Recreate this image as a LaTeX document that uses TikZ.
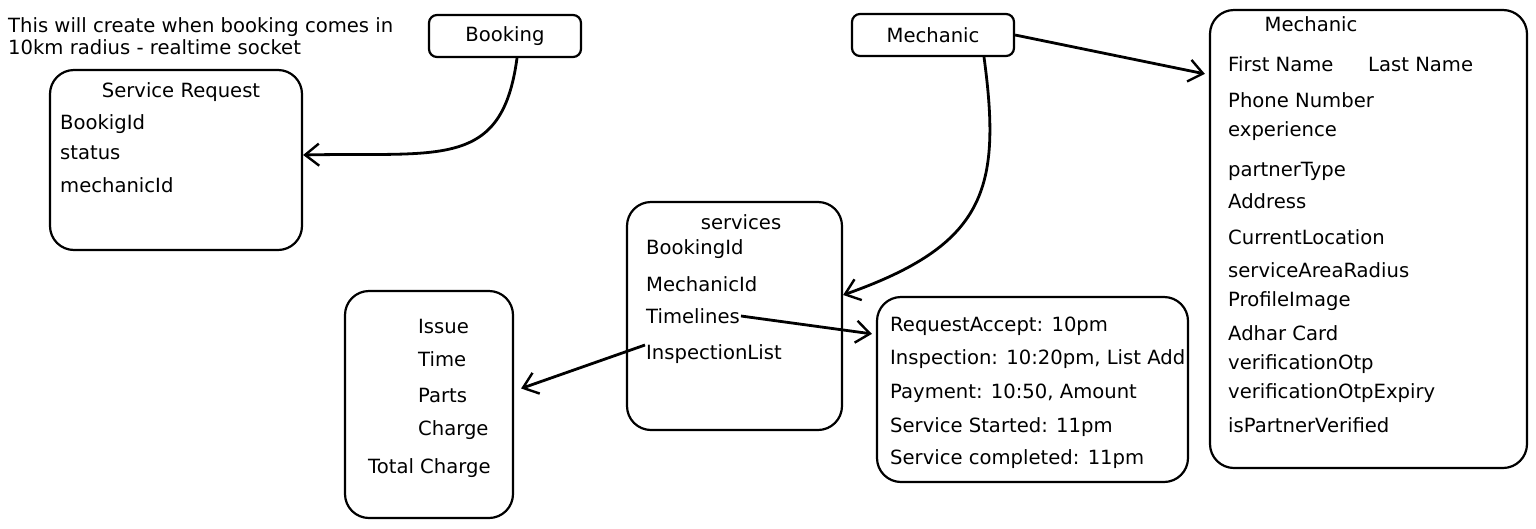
\documentclass[tikz,border=0pt]{standalone}
\usepackage{fontspec}
\setmainfont{DejaVu Sans}
\usetikzlibrary{arrows.meta}
\tikzset{>={Straight Barb[length=14pt,width=22pt,line width=2.4pt]}}
\begin{document}
\begin{tikzpicture}[x=1pt,y=-1pt,
					font=\fontsize{19.6}{22}\selectfont,
					entity/.style={draw,rectangle,rounded corners=24pt,line width=2.2pt},
					tag/.style={draw,rectangle,rounded corners=8pt,line width=2.2pt,minimum height=42pt},
					field/.style={anchor=west,inner sep=1pt},
					link/.style={->,line width=2.8pt}
				]
				\useasboundingbox (0,0) rectangle (1536,528);
				\node (note) at (8,36) [anchor=west,align=left,inner sep=0pt]{This will create when booking comes in\\10km radius - realtime socket};
				\node (booking) at (505,36) [tag,minimum width=152pt]{Booking};
				\node (mechsm) at (933,35) [tag,minimum width=162pt]{Mechanic};
				% service request
				\node (srq) at (176,160) [entity,minimum width=252pt,minimum height=180pt]{};
				\node (srqtitle) at (181,92) {Service Request};
				\node (srqbid) at (59,124) [field]{BookigId};
				\node (srqstatus) at (59,153) [field]{status};
				\node (srqmid) at (59,185) [field]{mechanicId};
				% services
				\node (services) at (734.5,316) [entity,minimum width=215pt,minimum height=228pt]{};
				\node (srvtitle) at (741,222) {services};
				\node (srvbid) at (645,249) [field]{BookingId};
				\node (srvmid) at (645,284) [field]{MechanicId};
				\node (srvtime) at (645,316) [field]{Timelines};
				\node (srvinsp) at (645,354) [field]{InspectionList};
				% timelines
				\node (tl) at (1032.5,389.5) [entity,minimum width=311pt,minimum height=185pt]{};
				\node (tlaccept) at (889,326) [field]{RequestAccept: 10pm};
				\node (tlinsp) at (889,359) [field]{Inspection: 10:20pm, List Add};
				\node (tlpay) at (889,393) [field]{Payment: 10:50, Amount};
				\node (tlstart) at (889,427) [field]{Service Started: 11pm};
				\node (tldone) at (889,459) [field]{Service completed: 11pm};
				% inspection list
				\node (charge) at (429,404.5) [entity,minimum width=168pt,minimum height=227pt]{};
				\node (chissue) at (417,326) [field]{Issue};
				\node (chtime) at (417,359) [field]{Time};
				\node (chparts) at (417,395) [field]{Parts};
				\node (chcharge) at (417,430) [field]{Charge};
				\node (chtotal) at (367,468) [field]{Total Charge};
				% mechanic
				\node (mech) at (1368.5,239) [entity,minimum width=317pt,minimum height=458pt]{};
				\node (mechtitle) at (1311,24) {Mechanic};
				\node (mfirst) at (1227,64) [field]{First Name};
				\node (mlast) at (1367,64) [field]{Last Name};
				\node (mphone) at (1227,100) [field]{Phone Number};
				\node (mexp) at (1227,131) [field]{experience};
				\node (mptype) at (1227,171) [field]{partnerType};
				\node (maddr) at (1227,201) [field]{Address};
				\node (mloc) at (1227,237) [field]{CurrentLocation};
				\node (mradius) at (1227,270) [field]{serviceAreaRadius};
				\node (mimage) at (1227,301) [field]{ProfileImage};
				\node (madhar) at (1227,333) [field]{Adhar Card};
				\node (motp) at (1227,364) [field]{verificationOtp};
				\node (motpexp) at (1227,393) [field]{verificationOtpExpiry};
				\node (mverified) at (1227,425) [field]{isPartnerVerified};
				\draw [link] ([xshift=12pt]booking.south) .. controls (502,170) and (440,152) .. ([yshift=5pt]srq.east);
				\draw [link] ([xshift=51pt]mechsm.south) .. controls (1002,190) and (985,245) .. ([yshift=21pt]services.east);
				\draw [link] (mechsm.east) -- ([shift={(-4pt,-65pt)}]mech.north west);
				\draw [link] (srvtime.east) -- ([shift={(-4pt,-38pt)}]tl.north west);
				\draw [link] ([yshift=9pt]srvinsp.west) -- ([shift={(7pt,16pt)}]charge.east);
\end{tikzpicture}
\end{document}
